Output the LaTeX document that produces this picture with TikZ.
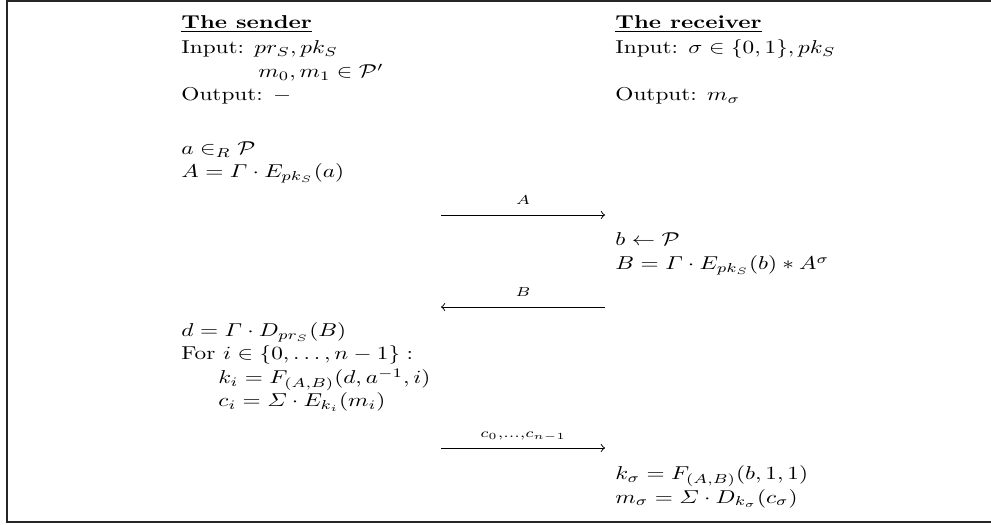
\documentclass[tikz,border=0pt]{standalone}
\usepackage{amsmath,amssymb}
\begin{document}
\begin{tikzpicture}[x=0.43pt, y=-0.43pt,
    txt/.style={anchor=base west, inner sep=0pt, yscale=0.8},
    msg/.style={midway, anchor=base, inner sep=0pt, yscale=0.8, yshift=5.6pt}]
    \useasboundingbox (0,0) rectangle (991,525);
    % Frame
    \draw[line width=0.8pt, black!85] (991,1) -- (7,1) -- (7,522) -- (991,522);
    % Sender
    \node[txt] (sTitle) at (181,29) {\underline{\textbf{The sender}}};
    \node[txt] (sIn) at (181,54) {Input: $pr_S, pk_S$};
    \node[txt] (sMsg) at (258,78) {$m_0, m_1 \in \mathcal{P}'$};
    \node[txt] (sOut) at (181,101) {Output: $-$};
    \node[txt] (sA1) at (181,155) {$a \in_R \mathcal{P}$};
    \node[txt] (sA2) at (181,178) {$A = \varGamma \cdot E_{pk_S}(a)$};
    \node[txt] (sD) at (181,337) {$d = \varGamma \cdot D_{pr_S}(B)$};
    \node[txt] (sFor) at (181,360) {For $i \in \{0, \ldots, n-1\}:$};
    \node[txt] (sK) at (218,384) {$k_i = F_{(A,B)}(d, a^{-1}, i)$};
    \node[txt] (sC) at (218,407) {$c_i = \varSigma \cdot E_{k_i}(m_i)$};
    % Receiver
    \node[txt] (rTitle) at (615,29) {\underline{\textbf{The receiver}}};
    \node[txt] (rIn) at (615,54) {Input: $\sigma \in \{0,1\}, pk_S$};
    \node[txt] (rOut) at (615,101) {Output: $m_\sigma$};
    \node[txt] (rB1) at (615,246) {$b \leftarrow \mathcal{P}$};
    \node[txt] (rB2) at (615,270) {$B = \varGamma \cdot E_{pk_S}(b) * A^\sigma$};
    \node[txt] (rK) at (615,480) {$k_\sigma = F_{(A,B)}(b,1,1)$};
    \node[txt] (rM) at (615,503) {$m_\sigma = \varSigma \cdot D_{k_\sigma}(c_\sigma)$};
    % Messages
    \coordinate (aL) at (441,215);
    \coordinate (aR) at (605,215);
    \coordinate (bL) at (441,307);
    \coordinate (bR) at (605,307);
    \coordinate (cL) at (441,448);
    \coordinate (cR) at (605,448);
    \draw[->] (aL) -- node[msg] (mA) {$\scriptstyle A$} (aR);
    \draw[->] (bR) -- node[msg] (mB) {$\scriptstyle B$} (bL);
    \draw[->] (cL) -- node[msg] (mC) {$\scriptstyle c_0, \ldots, c_{n-1}$} (cR);
\end{tikzpicture}
\end{document}
